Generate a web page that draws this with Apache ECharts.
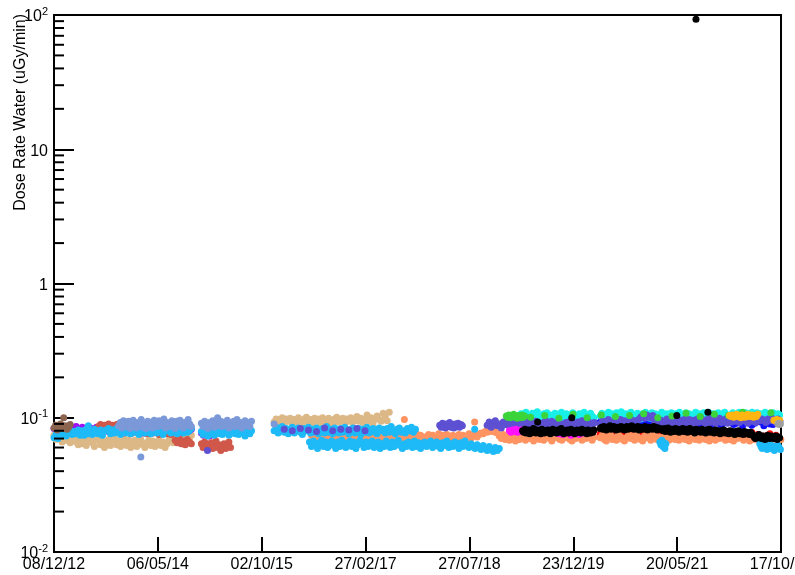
<!DOCTYPE html>
<html>
<head>
<meta charset="utf-8">
<title>Dose Rate Water</title>
<script src="https://cdn.jsdelivr.net/npm/echarts@6/dist/echarts.min.js"></script>
<style>
  html, body { margin: 0; padding: 0; background: #fff; }
  #chart { width: 795px; height: 575px; }
</style>
</head>
<body>
<div id="chart"></div>
<script>
// Time axis: days counted from the first monitoring date.
const START_DATE = '2012-12-08';
const END_DATE = '2022-10-17';
const X_DIVISIONS = 7;

// Log axis decades and the minor tick values between them (uGy/min).
const yMin = 0.01;
const yMax = 100;
const yMinorTicks = [
  0.02, 0.03, 0.04, 0.05, 0.06, 0.07, 0.08, 0.09,
  0.2, 0.3, 0.4, 0.5, 0.6, 0.7, 0.8, 0.9,
  2, 3, 4, 5, 6, 7, 8, 9,
  20, 30, 40, 50, 60, 70, 80, 90
];

// Dose-rate readings in nGy/min, one block per detector run.
// Each block is sampled at a fixed cadence (days) from its start date.
const tanA = [74,69,76,70,66,73,68,72,65,70, 72,66,63,70,64,71,62,68,72,65, 61,68,70,63,67,60,66,69,62,68, 70,63,67,61,66,69,62,68,60,64, 68,61,66,69,63,60,65,68,62,67, 61,64,68,62,66,60,64,69,70,65, 71,74,67,72,75,68,73,69,74];
const tanC = [93,98,90,97,100,92,98,94,99,90, 97,93,100,95,91,98,101,93,97,90, 99,94,98,91,100,96,93,99,94,90, 98,101,93,96,99,91,98,94,100,93, 96,102,94,99,92,97,105,95,100,91, 99,103,97,94,108,101,95,110];

const coral1 = [74,69,75,70,68,74,76,69,72,67, 71,75,72,68,74,69,76,71,67,73, 75,69,74,70,68,75,72,69,74,67, 71,76,72,68,74,70,69,75,72,67, 74,70,76,69,72,68,75,70,74,69, 67,72,76,70,74,68,72,69,75,70, 74,68,72,76,69,74,70,75,72,69, 74,68,72,75,70,74,69,72,76,70, 74,75,72,
  75,77,76,79,78,81,79,80,78,77,
  73,70,75,69,72,68,74,71,67,73, 69,75,71,68,73,70,74,67,71,75, 69,72,68,71,74,70,67,73,71,75, 69,68,73,71,74,69,67,72,70,75, 71,68,73,70,74,71,68,72];
const coral2 = [71,74,69,67,73,75,69,71,68,74, 72,69,67,71,75,70,73,68,74,71, 69,67,73,71,75,68,71,74,69,72, 67,71,74,70,68,73,75,69,71,68, 74,71,69,73,67,71,74,69,72,68, 71,75,69,72,67,71,74,68,73,70, 71,74,68,73,69,71,67,73,70,74, 71,68,73,70,67,71,69,73,68,71, 70];
const coral3 = [70,68,71,69,70,72,69];

const purpleA = [83,86,80,84,87,82,85,81,84,82, 85,86,80,82,85,81,83,81,84,80, 82,85,79,83,80,84,81,79,82,85, 80,83,79,81,84,80,82,78,83,81, 79,84,80,82,77,81,83,79,82,80, 84,78,81,83,79,80,82,78,81,84, 79,82,80,77,81,83,79,80,82];
const purpleB = [77,74,79,75,73];

const indianRedA = [86,89,85,88,87,90,86,88,85,89, 87,84, 79,77,80,78,76,79,78,80,77,79, 80,78,76,79,78,77,80,78,75,79, 77,79,76,78,75,77, 68,65,70,64,67,63,69,66,64];
const indianRedB = [64,60,66,61,58,63,65,59,62,67, 60,63,57,61,64,59,62,66,60];

const skyA = [71,75,70,76,74,79,73,78,80,75, 79,76,81,74,80,74,82,76,80,75, 82,77,76,81,74,80,81,83,76,81, 77,83,78,75,82,84,77,81,76,83, 78,82,75,81,84,77,82,78,76,83, 81,77,85,78,75,82,80,84,77,79, 83,76,81,82,77,84,78,80,83];
const skyB = [79,75,82,78,73,81,76,83,74,79, 82,76,80,75,78,84,79,74,81,77, 83,76,79,75,82,78,80,73,79,83, 76,80];
const skyC = [80,85,77,82,86,78,83,76,80,85, 77,82,84,78,75,83,80,85,77,82, 78,84,76,80,83,77,86,78,82,76, 84,80,77,83,78,85,80,76,82,84, 77,80,83,75,82,78,85,77,80,83, 78,76,84,80,82,77,83,78,86,80, 76,82,84,78,80,77,83,80,85,78, 82];
const skyD = [66,61,67,62,59,65,68,61,66,60, 65,67,62,59,66,61,68,62,60,65, 67,61,66,59,63,68,64,60,66,61, 65,67,60,63,66,59,64,61,67,62, 60,66,61,65,68,62,59,64,61,66, 63,60,67,61,65,59,63,66,61,64, 67,60,63,66,61,59,65,62,67,60, 64,61,66,62,59,65,61,67,63,60, 64,61,59,63,60,58,62,59,57,61, 58,56,60,57,59];
const skyE = [66,63,68,61,65,59,64];
const skyF = [64,61,59,63,60,62,58,61,63,59, 62,60,57,61,59,62,60,58];

const steelA = [87,92,84,95,89,86,94,83,91,96, 87,84,92,89,97,85,91,83,94,88, 92,84,96,89,86,95,90,87,98,84, 92,89,86,95,90,83,94,87,96,89, 84,92,87,97,90,86];
const steelB = [91,86,94,88,83,92,89,95,85,91, 100,87,94,86,92,89,96,84,91,87, 94,86,97,89,92,84,90,95,87,92, 86,94];

const brownA = [84,88,81,86,90,83,100,87,82,85,89];

const slateA = [82,80,83,81,79,84,80,82,81,83,80];
const slateB = [88,85,91,87,84,90,86,92,85,89,84,90,87,91,85,89,87];
const slateC = [88,93,85,91,95,87,90,84,93,89, 95,86,91,85,94,88,92,86,90,95, 85,89,93,87,94,90,85,89,92,95, 86,91,94,85,89,93,87,90,84,92, 89,94,86,91,85,93,88,95,87,90, 94,88,85,92];
const slateD = [90,95,88,93,97,90,87,95,92,89, 97,90,95,87,93,98,90,95,88,97, 101,104,99,105,102,100,104,92,97,90, 96,89,94,98,91,96,88,97,93,90, 96,91,98,92,97,89,96,91,98,93, 99,94,90,97,92,99,95,91,97,99, 92,95,98,91,97,93,99,94,98,92, 96,99,94,91,98,94,97,92,99,95, 98,96,92,98,95,99,96,92,98,94];

const cyanA = [101,107,98,105,110,100,104,97,108,102, 105,111,99,103,98,107,101,109,97,105, 103,100,108,98,106,102,110,99,104,107, 97,105,101,109,99,103,98,107,104,100, 110,101,105,98,108,103,100];
const cyanB = [103,108,99,105,101,110,98,107,103,100, 109,104,101,111,99,103,107,98,105,110, 101,103,99,108,105,98,107,103,110,101, 105,99,109,103,107,98,105,101,110,103, 99,107,105,101,109,98,103,107,100,110, 105,101,103,109,99,107,103,98,105,110, 101,107,103,99,109,105,101,110,103,98, 107,105,101,109,99,103,107,110,101,105, 103,99,109,105,101,107,110,103,99,105, 109,101,107,103,110,105,99,109,103,107, 101,105,110,103,107,99,105,109,103,101, 107,105];

const blueA = [94,88,96,90,97,87,92,95,89,94, 90,97,92,87,95,94,88,93,97,90, 94,88,96,92];
const blueB = [93,88,96,90,87,94,97,89,92,86, 96,90,94,87,93,97,89,91,96,92, 87,94,90,97,89,93,96,87,91,95, 92,88,97,90,86,94,92,89,96,91, 87,94,92,97,89,91,96,87,93,95, 88,91,96,93,87,94,90,89,93,96];

const greenA = [103,101,105,100,104,102,106,101,103,99, 104,102,100,105,101,103];
const greenB = [101,104,99,106,100,105,102,104,107,100, 103,108,102,106,104,110,105,109];

const redA = [77,74,76,73,78,75,74,77,73,76,75,78];
const redB = [76,74,77,73,78,75,74,77,76,73, 75,78,74,76,73,77,75,74,78,76, 73,75,77,74,76,78,75,73,76,74];

const magentaA = [80,78,81,79,82,78,80,81,79,80];
const magentaB = [76,75,77,74,76,75,77];

const blackA = [80,78,82,77,79,81,76,80,78,83, 79,77,81,78,80,76,82,79,77,80, 78,81,79,76,80,82,78,79,77,81, 80,78,83,79,76,80,78,81,77,79, 82,78,80,76,79,81,78,80,77,82, 79,78,80,76,81,79,77,80,78,81];
const blackB = [83,85,82,86,84,81,85,83,87,82, 84,86,83,81,85,84,82,86,83,85, 81,84,86,82,85,83,87,84,82,85, 83,86,81,84,85,82,83,86,84,81, 85,83,84,82,86,83,85,81,84,83, 82];
const blackC = [82,80,83,79,81,84,80,78,82,81, 79,83,80,82,78,81,80,83,79,81, 82,78,80,83,79,81,80,77,82,79, 81,80,78,82,79,80,77,81,79,82, 78,80,79,77,81,78,80,79,76,80, 78,81,77,79,78,76,80,77,79,78, 75,79,77,80,76,78,77,75,79,76, 78,77,75,78,76];
const blackD = [74,72,70,73,71,75,72,70,73,71, 69,72,74,71,70,73,72,70,71,73, 69,72,71];

const orangeA = [104,102,105,101,103,106,102,104,100,105, 103,101,104,106,102,103,105,101,104,102, 106];
const orangeB = [96,95,97,94,96];

const grayA = [90,91,89,90];

// Isolated readings: [date, nGy/min]
const skySingles = [['2013-05-27', 87], ['2018-08-22', 82]];
const steelSingles = [['2014-02-11', 51], ['2015-12-03', 90]];
const slateSingles = [['2015-01-07', 57]];
const coralSingles = [['2017-09-08', 97], ['2018-08-22', 93]];
const blackSingles = [['2019-06-30', 93], ['2019-12-16', 100], ['2021-05-19', 104], ['2021-08-22', 93000], ['2021-10-20', 110]];

// Detectors in drawing order: runs are [start date, cadence in days, readings].
const detectors = [
  { name: 'D01', color: '#dcb887', runs: [['2012-12-08', 10, tanA], ['2015-12-03', 10, tanC]] },
  { name: 'D12', color: '#ff1010', runs: [['2019-04-26', 30, redA], ['2020-05-05', 30, redB]] },
  { name: 'D02', color: '#ff9462', runs: [['2016-06-05', 10, coral1], ['2020-05-05', 10, coral2], ['2022-07-24', 14, coral3]], singles: coralSingles },
  { name: 'D03', color: '#9b10f5', runs: [['2012-12-08', 10, purpleA], ['2014-12-08', 10, purpleB]] },
  { name: 'D04', color: '#d0584a', runs: [['2013-07-16', 10, indianRedA], ['2014-12-08', 8, indianRedB]] },
  { name: 'D05', color: '#1ebaf8', runs: [['2012-12-08', 10, skyA], ['2014-12-08', 8, skyB], ['2015-12-03', 10, skyC], ['2016-05-26', 10, skyD], ['2021-02-24', 5, skyE], ['2022-07-04', 6, skyF]], singles: skySingles },
  { name: 'D06', color: '#7b98d8', runs: [['2013-10-24', 8, steelA], ['2014-12-08', 8, steelB]], singles: steelSingles },
  { name: 'D07', color: '#8c6450', runs: [['2012-12-08', 8, brownA]] },
  { name: 'D10', color: '#1010ff', runs: [['2019-04-26', 15, blueA], ['2020-05-05', 15, blueB]] },
  { name: 'D09', color: '#18efe8', runs: [['2019-04-01', 8, cyanA], ['2020-05-05', 8, cyanB]] },
  { name: 'D08', color: '#5d50d2', runs: [['2016-01-22', 40, slateA], ['2018-03-02', 7, slateB], ['2018-10-23', 10, slateC], ['2020-05-05', 10, slateD]], singles: slateSingles },
  { name: 'D11', color: '#3bd43b', runs: [['2019-01-26', 6, greenA], ['2019-05-26', 70, greenB]] },
  { name: 'D13', color: '#ff10ff', runs: [['2019-02-10', 8, magentaA], ['2019-10-13', 20, magentaB]] },
  { name: 'D14', color: '#000000', runs: [['2019-04-16', 6, blackA], ['2020-05-05', 6, blackB], ['2021-03-07', 6, blackC], ['2022-05-31', 6, blackD]], singles: blackSingles },
  { name: 'D15', color: '#ffb612', runs: [['2022-02-04', 7, orangeA], ['2022-09-12', 7, orangeB]] },
  { name: 'D16', color: '#a0a0a0', runs: [['2022-10-02', 4, grayA]] }
];

const DAY_MS = 86400000;
const BASE = Date.parse(START_DATE + 'T00:00:00Z');
const dayOf = s => Math.round((Date.parse(s + 'T00:00:00Z') - BASE) / DAY_MS);
const SPAN = dayOf(END_DATE);
const pad = n => (n < 10 ? '0' : '') + n;
const fmtDay = v => {
  const d = new Date(BASE + Math.floor(v + 1e-6) * DAY_MS);
  return pad(d.getUTCDate()) + '/' + pad(d.getUTCMonth() + 1) + '/' + pad(d.getUTCFullYear() % 100);
};

const FONT = 'Liberation Sans';

const scatterSeries = detectors.map(det => {
  const pts = [];
  det.runs.forEach(([start, step, vals]) => {
    const d0 = dayOf(start);
    vals.forEach((v, i) => pts.push([d0 + i * step, v / 1000]));
  });
  (det.singles || []).forEach(([date, v]) => pts.push([dayOf(date), v / 1000]));
  return {
    name: det.name,
    type: 'scatter',
    data: pts,
    symbol: 'circle',
    symbolSize: 7,
    itemStyle: { color: det.color, opacity: 1 },
    emphasis: { disabled: true },
    silent: true
  };
});

// Short log-scale minor ticks on the left axis.
const minorTickSeries = {
  type: 'custom',
  silent: true,
  clip: false,
  z: 10,
  data: yMinorTicks.map(v => [0, v]),
  renderItem: (params, api) => {
    const p = api.coord([0, api.value(1)]);
    return {
      type: 'line',
      shape: { x1: p[0], y1: p[1], x2: p[0] + 10, y2: p[1] },
      style: { stroke: '#000', lineWidth: 2 }
    };
  }
};

const chart = echarts.init(document.getElementById('chart'), null, { renderer: 'canvas' });
chart.setOption({
  backgroundColor: '#ffffff',
  animation: false,
  textStyle: { fontFamily: FONT },
  grid: {
    left: 54, right: 14, top: 15, bottom: 23,
    containLabel: false,
    outerBoundsMode: 'none',
    show: true, borderColor: '#000', borderWidth: 2
  },
  xAxis: {
    type: 'value',
    min: 0,
    max: SPAN,
    interval: SPAN / X_DIVISIONS,
    axisLine: { lineStyle: { color: '#000', width: 2 } },
    axisTick: { inside: true, length: 15, lineStyle: { color: '#000', width: 2 } },
    splitLine: { show: false },
    axisLabel: {
      formatter: fmtDay,
      color: '#000',
      fontSize: 16,
      fontFamily: FONT,
      margin: 5,
      showMinLabel: true,
      showMaxLabel: true
    }
  },
  yAxis: {
    type: 'log',
    logBase: 10,
    min: yMin,
    max: yMax,
    axisLine: { lineStyle: { color: '#000', width: 2 } },
    axisTick: { inside: true, length: 20, lineStyle: { color: '#000', width: 2 } },
    splitLine: { show: false },
    axisLabel: {
      margin: 6,
      formatter: v => {
        const e = Math.round(Math.log10(v));
        if (e === 0) return '{b|1}';
        if (e === 1) return '{b|10}';
        return '{b|10}{s|' + e + '}';
      },
      rich: {
        b: { fontSize: 16, fontFamily: FONT, color: '#000', verticalAlign: 'bottom', lineHeight: 20 },
        s: { fontSize: 11, fontFamily: FONT, color: '#000', verticalAlign: 'bottom', padding: [0, 0, 8, 0] }
      }
    }
  },
  graphic: [{
    type: 'text',
    x: 21,
    y: 14,
    rotation: Math.PI / 2,
    silent: true,
    style: {
      text: 'Dose Rate Water (uGy/min)',
      font: '16px "' + FONT + '"',
      fill: '#000',
      align: 'right',
      verticalAlign: 'middle'
    }
  }],
  series: scatterSeries.concat([minorTickSeries])
});
</script>
</body>
</html>
